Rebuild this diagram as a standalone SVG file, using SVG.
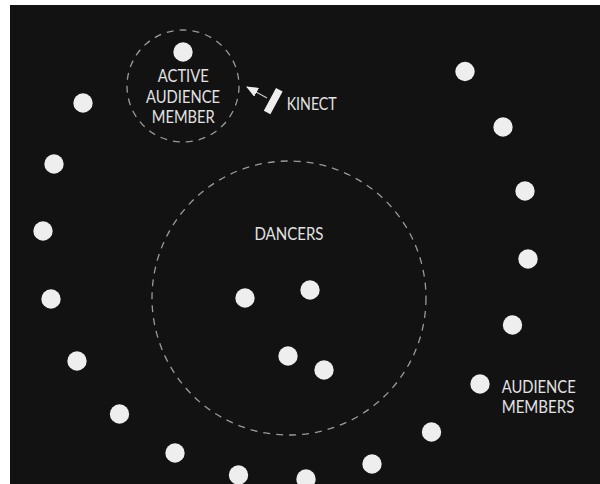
<svg xmlns="http://www.w3.org/2000/svg" width="600" height="484" viewBox="0 0 600 484">
<style>
.dot{fill:#eeeeee}
.ring{fill:none;stroke:#9a9a9a;stroke-width:1.3;stroke-dasharray:7 6}
.lbl{font-family:Lato,"Open Sans","Liberation Sans",sans-serif;font-size:16.5px;fill:#e2e2e2;text-anchor:middle}
</style>
<defs>
<marker id="ah" viewBox="0 0 12 10" refX="11" refY="5" markerWidth="12" markerHeight="10" markerUnits="userSpaceOnUse" orient="auto">
<path d="M0,0 L12,5 L0,10 Z" fill="#eeeeee"/>
</marker>
</defs>
<rect x="0" y="0" width="600" height="484" fill="#ffffff"/>
<rect x="10" y="5" width="590" height="479" fill="#121212"/>
<g id="dancers-area">
<circle class="ring" cx="289" cy="298" r="137"/>
<text class="lbl" x="289" y="239.5" textLength="69" lengthAdjust="spacingAndGlyphs">DANCERS</text>
</g>
<g id="dancers">
<circle class="dot" cx="245" cy="298" r="9.7"/>
<circle class="dot" cx="310" cy="290" r="9.7"/>
<circle class="dot" cx="288" cy="356" r="9.7"/>
<circle class="dot" cx="324" cy="370" r="9.7"/>
</g>
<g id="active-audience-member">
<circle class="ring" cx="183" cy="86" r="56"/>
<circle class="dot" cx="183" cy="52" r="9.7"/>
<text class="lbl" x="183.3" y="81.7" textLength="51" lengthAdjust="spacingAndGlyphs">ACTIVE</text>
<text class="lbl" x="183" y="102.7" textLength="74" lengthAdjust="spacingAndGlyphs">AUDIENCE</text>
<text class="lbl" x="183.3" y="123.3" textLength="63" lengthAdjust="spacingAndGlyphs">MEMBER</text>
</g>
<g id="kinect">
<rect x="269.5" y="88" width="7.5" height="26" fill="#eeeeee" transform="rotate(28 273 101)"/>
<text class="lbl" x="311.7" y="109.7" textLength="50" lengthAdjust="spacingAndGlyphs">KINECT</text>
</g>
<g id="connectors">
<line x1="267" y1="98" x2="247" y2="87" stroke="#cccccc" stroke-width="1.2" marker-end="url(#ah)"/>
</g>
<g id="audience-members">
<circle class="dot" cx="83" cy="103" r="9.7"/>
<circle class="dot" cx="54" cy="164" r="9.7"/>
<circle class="dot" cx="43" cy="231" r="9.7"/>
<circle class="dot" cx="51" cy="299" r="9.7"/>
<circle class="dot" cx="77" cy="361" r="9.7"/>
<circle class="dot" cx="119.5" cy="414" r="9.7"/>
<circle class="dot" cx="175" cy="453" r="9.7"/>
<circle class="dot" cx="238.5" cy="475" r="9.7"/>
<circle class="dot" cx="306" cy="479" r="9.7"/>
<circle class="dot" cx="372" cy="464" r="9.7"/>
<circle class="dot" cx="431.5" cy="432" r="9.7"/>
<circle class="dot" cx="465" cy="71.5" r="9.7"/>
<circle class="dot" cx="503" cy="127" r="9.7"/>
<circle class="dot" cx="525" cy="191" r="9.7"/>
<circle class="dot" cx="528" cy="259" r="9.7"/>
<circle class="dot" cx="512.5" cy="325" r="9.7"/>
<circle class="dot" cx="480" cy="384" r="9.7"/>
<text class="lbl" x="538.7" y="392.7" textLength="74" lengthAdjust="spacingAndGlyphs">AUDIENCE</text>
<text class="lbl" x="538" y="413.3" textLength="72.6" lengthAdjust="spacingAndGlyphs">MEMBERS</text>
</g>
</svg>
